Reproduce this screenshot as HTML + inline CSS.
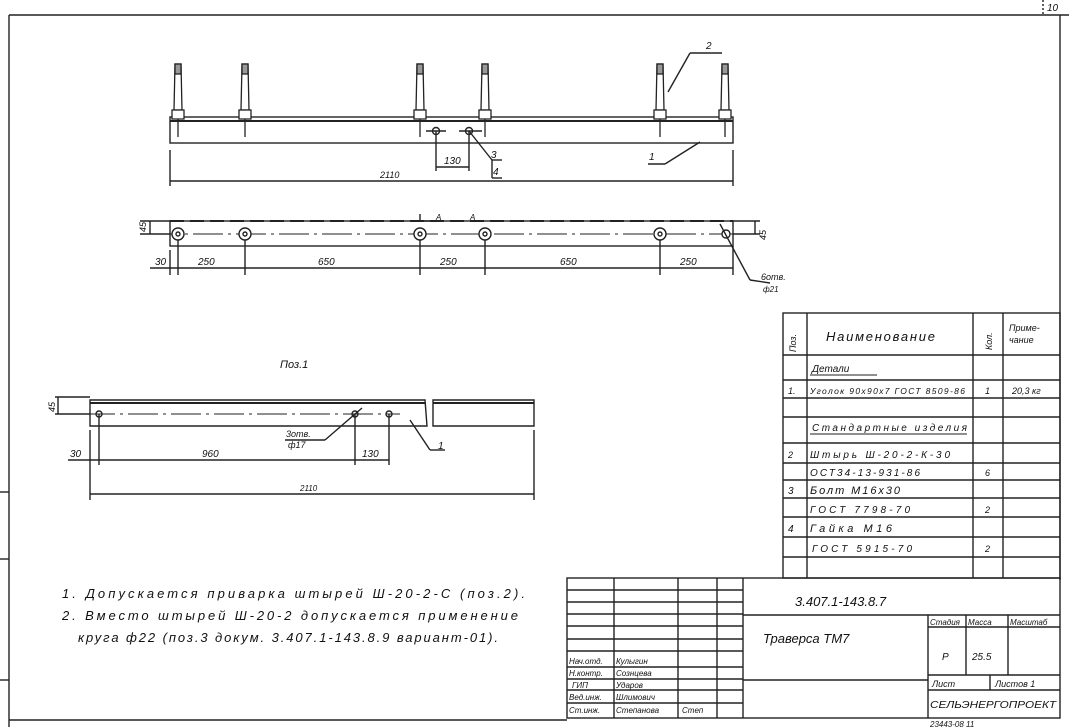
<!DOCTYPE html>
<html><head><meta charset="utf-8"><style>
html,body{margin:0;padding:0;background:#fff;}
svg{display:block;}
text{font-family:"Liberation Sans",sans-serif;fill:#111;font-style:italic;}
</style></head><body>
<svg width="1069" height="727" viewBox="0 0 1069 727" xmlns="http://www.w3.org/2000/svg">
<defs>
<g id="p" stroke="#222" stroke-width="1.3" fill="#fff"><path d="M-4,110 L-3,64 L3,64 L4,110 Z"/><rect x="-6" y="110" width="12" height="9"/><line x1="0" y1="119" x2="0" y2="137"/><rect x="-3" y="64" width="6" height="10" fill="#999"/></g>
</defs>
<g stroke="#222" stroke-width="1.4" fill="none">
<!-- frame -->
<line x1="9" y1="15" x2="1069" y2="15"/>
<line x1="9" y1="15" x2="9" y2="727"/>
<line x1="1060" y1="15" x2="1060" y2="580"/>
<line x1="1043" y1="0" x2="1043" y2="15" stroke-dasharray="2,2"/>
<line x1="0" y1="492" x2="9" y2="492"/><line x1="0" y1="559" x2="9" y2="559"/><line x1="0" y1="680" x2="9" y2="680"/>
<line x1="9" y1="720" x2="567" y2="720"/>

<!-- front view beam -->
<rect x="170" y="117" width="563" height="26"/>
<line x1="170" y1="121" x2="733" y2="121" stroke-width="2"/>
<line x1="170" y1="150" x2="170" y2="186"/><line x1="733" y1="150" x2="733" y2="186"/>
<line x1="170" y1="181" x2="733" y2="181"/>
<line x1="436" y1="131" x2="436" y2="171"/><line x1="469" y1="131" x2="469" y2="171"/>
<line x1="436" y1="167" x2="469" y2="167"/>
<circle cx="436" cy="131" r="3.5"/><circle cx="469" cy="131" r="3.5"/>
<line x1="426" y1="131" x2="446" y2="131"/><line x1="459" y1="131" x2="482" y2="131"/>
<line x1="469" y1="131" x2="492" y2="160"/><line x1="492" y1="160" x2="492" y2="178"/><line x1="492" y1="178" x2="502" y2="178"/><line x1="492" y1="160" x2="502" y2="160"/>
<line x1="700" y1="142" x2="665" y2="164"/><line x1="665" y1="164" x2="648" y2="164"/>
<line x1="690" y1="53" x2="668" y2="92"/><line x1="690" y1="53" x2="722" y2="53"/>
</g>
<use href="#p" x="178"/><use href="#p" x="245"/><use href="#p" x="420"/><use href="#p" x="485"/><use href="#p" x="660"/><use href="#p" x="725"/>
<g stroke="#222" stroke-width="1.4" fill="none">
<!-- plan view -->
<rect x="170" y="221" width="563" height="25"/>
<line x1="170" y1="221" x2="733" y2="221" stroke-dasharray="14,6" stroke-width="2"/>
<line x1="150" y1="234" x2="760" y2="234" stroke-dasharray="30,5,3,5" stroke-width="1"/>
<g fill="#fff"><circle cx="178" cy="234" r="6"/><circle cx="245" cy="234" r="6"/><circle cx="420" cy="234" r="6"/><circle cx="485" cy="234" r="6"/><circle cx="660" cy="234" r="6"/><circle cx="726" cy="234" r="4"/></g>
<g><circle cx="178" cy="234" r="2"/><circle cx="245" cy="234" r="2"/><circle cx="420" cy="234" r="2"/><circle cx="485" cy="234" r="2"/><circle cx="660" cy="234" r="2"/></g>
<line x1="150" y1="268" x2="733" y2="268"/>
<line x1="170" y1="250" x2="170" y2="275"/><line x1="178" y1="240" x2="178" y2="275"/><line x1="245" y1="240" x2="245" y2="275"/><line x1="420" y1="240" x2="420" y2="275"/><line x1="485" y1="240" x2="485" y2="275"/><line x1="660" y1="240" x2="660" y2="275"/><line x1="733" y1="246" x2="733" y2="275"/>
<line x1="140" y1="221" x2="170" y2="221"/><line x1="140" y1="234" x2="170" y2="234"/><line x1="150" y1="221" x2="150" y2="234"/>
<line x1="733" y1="221" x2="760" y2="221"/><line x1="733" y1="234" x2="760" y2="234"/><line x1="755" y1="221" x2="755" y2="234"/>
<line x1="720" y1="224" x2="750" y2="280"/><line x1="750" y1="280" x2="770" y2="283"/>
<line x1="420" y1="221" x2="420" y2="214"/><line x1="420" y1="221" x2="438" y2="221"/>

<!-- Поз.1 -->
<path d="M90,400 L425,400 L427,426 L90,426 Z"/>
<path d="M433,400 L534,400 L534,426 L433,426 Z"/>
<line x1="90" y1="403" x2="425" y2="403" stroke-width="2"/><line x1="433" y1="403" x2="534" y2="403" stroke-width="2"/>
<line x1="85" y1="414" x2="400" y2="414" stroke-dasharray="30,5,3,5" stroke-width="1"/>
<circle cx="99" cy="414" r="3"/><circle cx="355" cy="414" r="3"/><circle cx="389" cy="414" r="3"/>
<line x1="99" y1="414" x2="99" y2="465"/><line x1="355" y1="414" x2="355" y2="465"/><line x1="389" y1="414" x2="389" y2="465"/>
<line x1="68" y1="460" x2="389" y2="460"/><line x1="90" y1="430" x2="90" y2="500"/><line x1="534" y1="430" x2="534" y2="500"/>
<line x1="90" y1="494" x2="534" y2="494"/>
<line x1="55" y1="397" x2="90" y2="397"/><line x1="55" y1="414" x2="90" y2="414"/><line x1="58" y1="397" x2="58" y2="414"/>
<line x1="362" y1="408" x2="325" y2="440"/><line x1="325" y1="440" x2="285" y2="440"/>
<line x1="410" y1="420" x2="430" y2="450"/><line x1="430" y1="450" x2="445" y2="450"/>

<!-- spec table -->
<rect x="783" y="313" width="277" height="265"/>
<line x1="807" y1="313" x2="807" y2="578"/><line x1="973" y1="313" x2="973" y2="578"/><line x1="1003" y1="313" x2="1003" y2="578"/>
<line x1="783" y1="355" x2="1060" y2="355"/><line x1="783" y1="380" x2="1060" y2="380"/><line x1="783" y1="398" x2="1060" y2="398"/><line x1="783" y1="417" x2="1060" y2="417"/><line x1="783" y1="443" x2="1060" y2="443"/><line x1="783" y1="463" x2="1060" y2="463"/><line x1="783" y1="480" x2="1060" y2="480"/><line x1="783" y1="498" x2="1060" y2="498"/><line x1="783" y1="517" x2="1060" y2="517"/><line x1="783" y1="537" x2="1060" y2="537"/><line x1="783" y1="557" x2="1060" y2="557"/>
<line x1="810" y1="375" x2="877" y2="375" stroke-width="1"/><line x1="810" y1="434" x2="967" y2="434" stroke-width="1"/>

<!-- title block -->
<rect x="567" y="578" width="493" height="140"/>
<line x1="614" y1="578" x2="614" y2="718"/><line x1="678" y1="578" x2="678" y2="718"/><line x1="717" y1="578" x2="717" y2="718"/><line x1="743" y1="578" x2="743" y2="718"/>
<line x1="567" y1="590" x2="743" y2="590"/><line x1="567" y1="602" x2="743" y2="602"/><line x1="567" y1="614" x2="743" y2="614"/><line x1="567" y1="626" x2="743" y2="626"/><line x1="567" y1="639" x2="743" y2="639"/><line x1="567" y1="651" x2="743" y2="651"/><line x1="567" y1="667" x2="743" y2="667"/><line x1="567" y1="679" x2="743" y2="679"/><line x1="567" y1="690" x2="743" y2="690"/><line x1="567" y1="703" x2="743" y2="703"/>
<line x1="743" y1="615" x2="1060" y2="615"/><line x1="743" y1="680" x2="928" y2="680"/>
<line x1="928" y1="615" x2="928" y2="718"/>
<line x1="928" y1="627" x2="1060" y2="627"/><line x1="928" y1="675" x2="1060" y2="675"/><line x1="928" y1="690" x2="1060" y2="690"/>
<line x1="966" y1="615" x2="966" y2="675"/><line x1="1008" y1="615" x2="1008" y2="675"/><line x1="990" y1="675" x2="990" y2="690"/>
</g>
<g font-size="10">
<text x="706" y="49">2</text>
<text x="649" y="160">1</text>
<text x="444" y="164">130</text>
<text x="491" y="158">3</text><text x="493" y="175">4</text>
<text x="380" y="178" font-size="9">2110</text>
<text x="155" y="265">30</text><text x="198" y="265">250</text><text x="318" y="265">650</text><text x="440" y="265">250</text><text x="560" y="265">650</text><text x="680" y="265">250</text>
<text x="436" y="220" font-size="8">A</text><text x="470" y="220" font-size="8">A</text>
<text x="146" y="232" font-size="9" transform="rotate(-90 146 232)">45</text>
<text x="766" y="240" font-size="9" transform="rotate(-90 766 240)">45</text>
<text x="761" y="280" font-size="9">6отв.</text><text x="763" y="292" font-size="8">ф21</text>
<text x="280" y="368" font-size="11">Поз.1</text>
<text x="55" y="412" font-size="9" transform="rotate(-90 55 412)">45</text>
<text x="286" y="437" font-size="9">3отв.</text><text x="288" y="448" font-size="9">ф17</text>
<text x="438" y="449">1</text>
<text x="70" y="457">30</text><text x="202" y="457">960</text><text x="362" y="457">130</text>
<text x="300" y="491" font-size="8">2110</text>
<text x="62" y="598" font-size="13" textLength="463" lengthAdjust="spacing">1. Допускается  приварка   штырей  Ш-20-2-С (поз.2).</text>
<text x="62" y="620" font-size="13" textLength="456" lengthAdjust="spacing">2. Вместо  штырей  Ш-20-2 допускается  применение</text>
<text x="78" y="642" font-size="13" textLength="420" lengthAdjust="spacing">круга  ф22 (поз.3 докум. 3.407.1-143.8.9  вариант-01).</text>
<text x="796" y="352" font-size="9" transform="rotate(-90 796 352)">Поз.</text>
<text x="826" y="341" font-size="13" textLength="109" lengthAdjust="spacing">Наименование</text>
<text x="992" y="350" font-size="9" transform="rotate(-90 992 350)">Кол.</text>
<text x="1009" y="331" font-size="9">Приме-</text><text x="1009" y="343" font-size="9">чание</text>
<text x="812" y="372" font-size="10">Детали</text>
<text x="788" y="394" font-size="9">1.</text><text x="810" y="394" font-size="8.5" textLength="155" lengthAdjust="spacing">Уголок 90х90х7 ГОСТ 8509-86</text><text x="985" y="394" font-size="9">1</text><text x="1012" y="394" font-size="9">20,3 кг</text>
<text x="812" y="431" font-size="10" textLength="155" lengthAdjust="spacing">Стандартные изделия</text>
<text x="788" y="458" font-size="9">2</text><text x="810" y="458" font-size="10" textLength="140" lengthAdjust="spacing">Штырь  Ш-20-2-К-30</text>
<text x="810" y="476" font-size="10" textLength="110" lengthAdjust="spacing">ОСТ34-13-931-86</text><text x="985" y="476" font-size="9">6</text>
<text x="788" y="494" font-size="10">3</text><text x="810" y="494" font-size="11" textLength="90" lengthAdjust="spacing">Болт  М16х30</text>
<text x="810" y="513" font-size="10" textLength="100" lengthAdjust="spacing">ГОСТ 7798-70</text><text x="985" y="513" font-size="9">2</text>
<text x="788" y="532" font-size="10">4</text><text x="810" y="532" font-size="11" textLength="82" lengthAdjust="spacing">Гайка  М16</text>
<text x="812" y="552" font-size="10" textLength="100" lengthAdjust="spacing">ГОСТ 5915-70</text><text x="985" y="552" font-size="9">2</text>
<text x="795" y="606" font-size="13">3.407.1-143.8.7</text>
<text x="763" y="643" font-size="13">Траверса  ТМ7</text>
<text x="930" y="625" font-size="8">Стадия</text><text x="968" y="625" font-size="8">Масса</text><text x="1010" y="625" font-size="8">Масштаб</text>
<text x="942" y="660" font-size="10">Р</text><text x="972" y="660" font-size="10">25.5</text>
<text x="932" y="687" font-size="9">Лист</text><text x="995" y="687" font-size="9">Листов 1</text>
<text x="930" y="708" font-size="10" font-style="normal" textLength="126" lengthAdjust="spacingAndGlyphs">СЕЛЬЭНЕРГОПРОЕКТ</text>
<g font-size="8">
<text x="569" y="664">Нач.отд.</text><text x="616" y="664">Кулыгин</text>
<text x="569" y="676">Н.контр.</text><text x="616" y="676">Сознцева</text>
<text x="572" y="688">ГИП</text><text x="616" y="688">Ударов</text>
<text x="569" y="700">Вед.инж.</text><text x="616" y="700">Шлимович</text>
<text x="569" y="713">Ст.инж.</text><text x="616" y="713">Степанова</text>
<text x="682" y="713">Степ</text>
</g>
<text x="1047" y="11" font-size="10" font-style="normal">10</text>
<text x="930" y="727" font-size="8">23443-08   11</text>
</g>
</svg>
</body></html>
